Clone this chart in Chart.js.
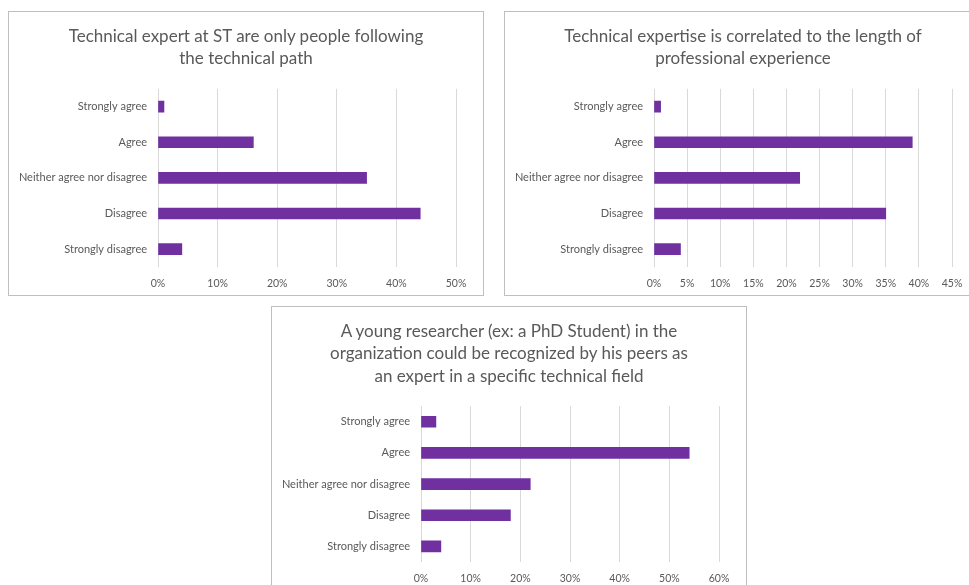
<!DOCTYPE html>
<html>
<head>
<meta charset="utf-8">
<script src="https://cdn.jsdelivr.net/npm/chart.js@4"></script>
<style>
  body { margin: 0; background: #fff; width: 969px; height: 585px; overflow: hidden; position: relative; }
  .box { position: absolute; border: 1px solid #bfbfbf; background: #fff; }
  .box canvas { display: block; }
  .title {
    position: absolute; left: 0; right: 0; top: 13px;
    text-align: center; white-space: pre-line;
    font-family: Lato, 'Open Sans', sans-serif; font-size: 17px; line-height: 22.4px;
    color: #595959;
  }
</style>
</head>
<body>
<div class="box" style="left:8px; top:11px;"><div class="title" id="expertTitle"></div><canvas id="expertChart" width="474" height="283"></canvas></div>
<div class="box" style="left:504px; top:11px;"><div class="title" id="lengthTitle"></div><canvas id="lengthChart" width="476" height="283"></canvas></div>
<div class="box" style="left:271px; top:306px;"><div class="title" id="youngTitle"></div><canvas id="youngChart" width="474" height="283"></canvas></div>
<script>
// answer categories (top to bottom)
const answers = ["Strongly agree", "Agree", "Neither agree nor disagree", "Disagree", "Strongly disagree"];

// % of respondents
const expertOnly = [1, 16, 35, 44, 4];
const lengthOfExperience = [1, 39, 22, 35, 4];
const youngResearcher = [3, 54, 22, 18, 4];

// titles
const expertTitle = ["Technical expert at ST are only people following", "the technical path"];
const lengthTitle = ["Technical expertise is correlated to the length of", "professional experience"];
const youngTitle = ["A young researcher (ex: a PhD Student) in the", "organization could be recognized by his peers as", "an expert in a specific technical field"];

// x axis ranges [max, step]
const expertAxis = [50, 10];
const lengthAxis = [45, 5];
const youngAxis = [60, 10];

const textGray = "#595959";
const barColor = "#7030a0";
const fontName = "Lato, 'Open Sans', sans-serif";

function makeChart(id, title, values, axis, rightPad) {
    // title sits in the box above the canvas, centred on the whole box
    document.getElementById(id.replace('Chart', 'Title')).textContent = title.join("\n");
    const topPad = 13 + title.length * 22.4 + 19;

    new Chart(document.getElementById(id), {
        type: 'bar',
        data: {
            labels: answers,
            datasets: [{
                data: values,
                backgroundColor: barColor,
                borderWidth: 0,
                barThickness: 11
            }]
        },
        options: {
            indexAxis: 'y',
            responsive: false,
            animation: false,
            layout: { padding: { left: 0, right: rightPad, top: topPad, bottom: 0 } },
            plugins: {
                legend: { display: false },
                tooltip: { enabled: false }
            },
            scales: {
                x: {
                    min: 0,
                    max: axis[0],
                    ticks: {
                        stepSize: axis[1],
                        color: textGray,
                        padding: 10,
                        font: { family: fontName, size: 10.5 },
                        callback: v => v + "%"
                    },
                    grid: { color: "#d9d9d9", drawTicks: false },
                    border: { display: false },
                    afterFit: s => { s.height = 28; }
                },
                y: {
                    ticks: {
                        color: textGray,
                        padding: 11,
                        font: { family: fontName, size: 11 }
                    },
                    grid: { display: false, drawTicks: false },
                    border: { display: false },
                    afterFit: s => { s.width = 149; }
                }
            }
        }
    });
}

makeChart('expertChart', expertTitle, expertOnly, expertAxis, 27);
makeChart('lengthChart', lengthTitle, lengthOfExperience, lengthAxis, 29);
makeChart('youngChart', youngTitle, youngResearcher, youngAxis, 27);
</script>
</body>
</html>
